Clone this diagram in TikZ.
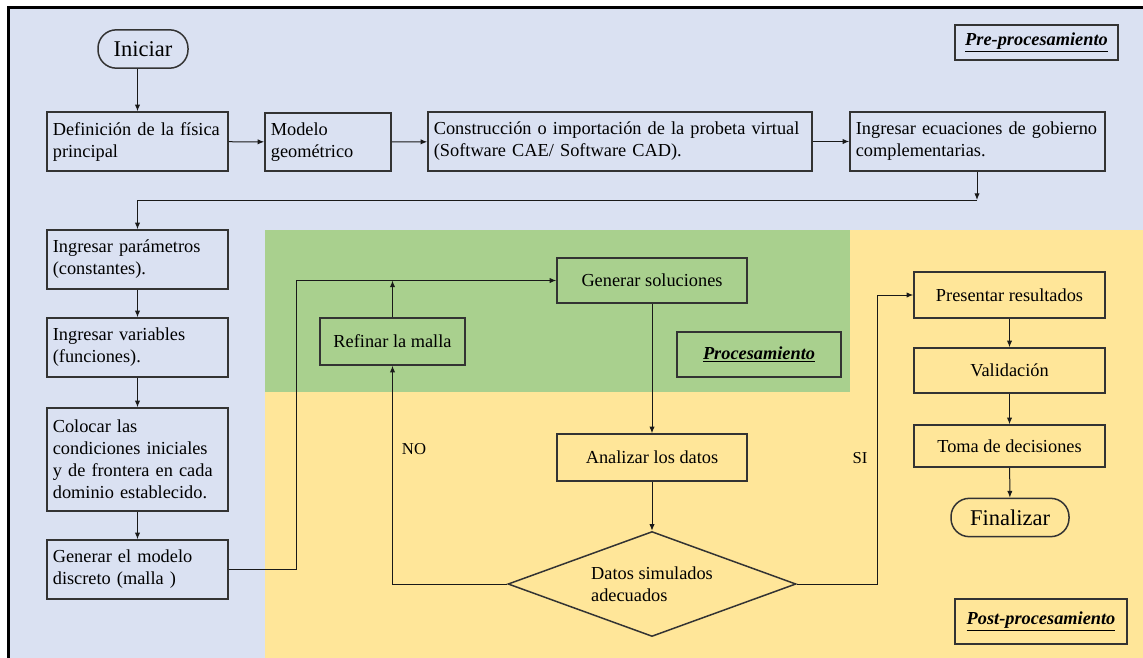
\documentclass[tikz,border=0pt]{standalone}
\usepackage{fontspec}
\setmainfont{Liberation Serif}
\usetikzlibrary{shapes.geometric,arrows.meta}
\definecolor{preblue}{HTML}{DAE1F2}
\definecolor{progreen}{HTML}{A9D08E}
\definecolor{postyellow}{HTML}{FFE699}
\begin{document}
\begin{tikzpicture}[x=0.6pt,y=-0.6pt,
  font=\rmfamily\fontsize{11}{13.2}\selectfont,
  box/.style={draw=black!80,line width=0.9pt,inner xsep=3.5pt,inner ysep=3pt},
  lbox/.style={box,align=left,text width=101.6pt,minimum height=35.4pt},
  cbox/.style={box,align=center,minimum width=114.6pt,minimum height=27pt},
  term/.style={box,rounded corners=11pt,minimum width=#1,minimum height=23pt,
    font=\rmfamily\fontsize{13.5}{16}\selectfont},
  tag/.style={box,minimum height=21pt,font=\rmfamily\fontsize{11}{13}\selectfont\bfseries\itshape},
  arr/.style={-{Latex[length=4pt,width=3.2pt]},line width=0.6pt,draw=black!90},
  lin/.style={line width=0.6pt,draw=black!90}]
\useasboundingbox (0,0) rectangle (1143,657);
\clip (0,0) rectangle (1143,657);
% zonas
\draw[line width=1.8pt,fill=preblue](8,8) rectangle (1170,680);
\fill[postyellow](265,392)--(850,392)--(850,230)--(1170,230)--(1170,680)--(265,680)--cycle;
\fill[progreen](265,230) rectangle (850,392);
%
\node[term=54pt] (ini) at (143,49) {Iniciar};
\node[lbox] (def) at (137.5,141.5) {Definición de la física\\principal};
\node[box,align=left,text width=68.6pt,minimum height=34.8pt] (mod) at (328,142) {Modelo\\geométrico};
\node[box,align=left,text width=223.4pt,minimum height=35.4pt] (cons) at (620,141.5)
  {Construcción o importación de la probeta virtual\\(Software CAE/ Software CAD).};
\node[box,align=left,text width=146pt,minimum height=35.4pt] (ecu) at (977.5,141.5)
  {Ingresar ecuaciones de gobierno\\complementarias.};
\node[tag,minimum width=97.8pt] (pre) at (1036.5,42.5) {\underline{Pre-procesamiento}};
%
\node[lbox] (par) at (137.5,259.5) {Ingresar parámetros\\(constantes).};
\node[lbox] (var) at (137.5,347.5) {Ingresar variables\\(funciones).};
\node[lbox,minimum height=61.8pt] (col) at (137.5,459.5)
  {Colocar las\\condiciones iniciales\\y de frontera en cada\\dominio establecido.};
\node[lbox] (mal) at (137.5,569.5) {Generar el modelo\\discreto (malla )};
%
\node[cbox,minimum width=114pt] (sol) at (652,280.5) {Generar soluciones};
\node[cbox,minimum width=87pt,minimum height=28.2pt] (ref) at (392.5,341.5) {Refinar la malla};
\node[tag,minimum width=98.4pt,minimum height=27pt] (pro) at (759,354.5) {\underline{Procesamiento}};
\node[cbox,minimum width=114pt,minimum height=28.2pt] (ana) at (652,457.5) {Analizar los datos};
\node[box,diamond,aspect=2.75,inner sep=0pt,minimum width=172.8pt,minimum height=63pt,
  align=left] (dat) at (652,584) {Datos simulados\\adecuados};
%
\node[cbox,minimum height=27.6pt] (pres) at (1009.5,295) {Presentar resultados};
\node[cbox] (val) at (1009.5,370.5) {Validación};
\node[cbox,minimum height=25.2pt] (tom) at (1009.5,446) {Toma de decisiones};
\node[term=70.8pt] (fin) at (1010,517.5) {Finalizar};
\node[tag,minimum width=103.2pt,minimum height=27pt] (post) at (1041,621.5) {\underline{Post-procesamiento}};
%
\coordinate (c1) at (977,200);
\coordinate (c2) at (296,280.5);
\coordinate (c3) at (877,295);
\draw[arr](def.north|-ini.south)--(def.north);
\draw[arr](def)--(mod);
\draw[arr](mod)--(cons);
\draw[arr](cons)--(ecu);
\draw[arr](ecu.south-|c1)--(c1);
\draw[arr](c1)-|(par.north);
\draw[arr](par)--(var);
\draw[arr](var)--(col);
\draw[arr](col)--(mal);
\draw[arr](mal.east)-|(c2)--(sol.west);
\draw[arr](ref.north)--(ref.north|-sol.west);
\draw[arr](sol)--(ana);
\draw[arr](ana)--(dat);
\draw[arr](dat.west)-|(ref.south);
\draw[arr](dat.east)-|(c3)--(pres.west);
\draw[arr](pres)--(val);
\draw[arr](val)--(tom);
\draw[arr](tom)--(fin);
\node[font=\rmfamily\fontsize{10}{12}\selectfont] (no) at (414,449) {NO};
\node[font=\rmfamily\fontsize{10}{12}\selectfont] (si) at (860,458) {SI};
\end{tikzpicture}
\end{document}
